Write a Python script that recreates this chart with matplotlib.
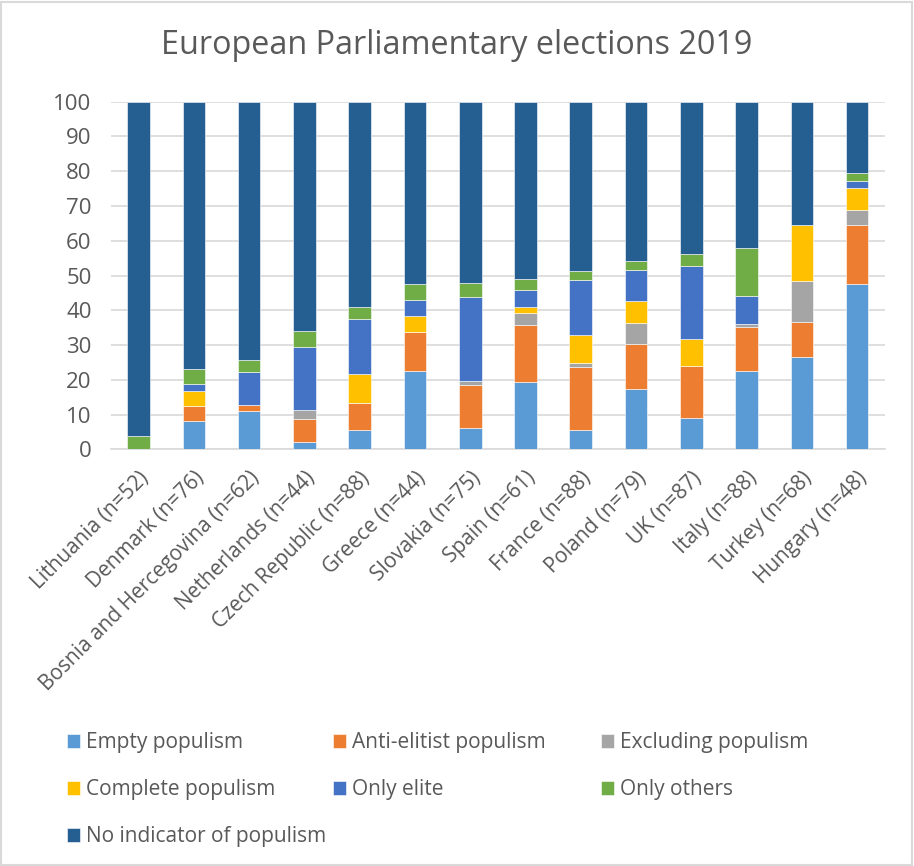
import numpy as np
import matplotlib.pyplot as plt
from matplotlib.patches import Rectangle

countries = ['Lithuania (n=52)', 'Denmark (n=76)', 'Bosnia and Hercegovina (n=62)',
             'Netherlands (n=44)', 'Czech Republic (n=88)', 'Greece (n=44)',
             'Slovakia (n=75)', 'Spain (n=61)', 'France (n=88)', 'Poland (n=79)',
             'UK (n=87)', 'Italy (n=88)', 'Turkey (n=68)', 'Hungary (n=48)']

empty      = [0.0, 8.2, 11.1, 2.1, 5.5, 22.5, 6.3, 19.5, 5.5, 17.5, 9.0, 22.5, 26.5, 47.7]
anti       = [0.0, 4.4, 1.7, 6.8, 7.9, 11.3, 12.1, 16.4, 18.2, 12.8, 14.9, 12.6, 10.2, 16.8]
excluding  = [0.0, 0.0, 0.0, 2.4, 0.0, 0.0, 1.4, 3.4, 1.1, 6.2, 0.0, 1.1, 11.8, 4.4]
complete   = [0.0, 4.3, 0.0, 0.0, 8.2, 4.6, 0.0, 1.6, 8.1, 6.3, 8.0, 0.0, 16.1, 6.3]
only_elite = [0.0, 2.0, 9.5, 18.2, 15.8, 4.6, 24.1, 5.0, 15.9, 8.8, 20.9, 8.0, 0.0, 2.1]
only_other = [3.8, 4.3, 3.4, 4.5, 3.5, 4.5, 3.9, 3.2, 2.5, 2.7, 3.4, 13.7, 0.0, 2.1]
no_ind     = [96.2, 76.8, 74.3, 66.0, 59.1, 52.5, 52.2, 50.9, 48.7, 45.7, 43.8, 42.1, 35.4, 20.6]

series = [('Empty populism', empty, '#5B9BD5'),
          ('Anti-elitist populism', anti, '#ED7D31'),
          ('Excluding populism', excluding, '#A5A5A5'),
          ('Complete populism', complete, '#FFC000'),
          ('Only elite', only_elite, '#4472C4'),
          ('Only others', only_other, '#70AD47'),
          ('No indicator of populism', no_ind, '#255E91')]

plt.rcParams['font.family'] = ['Open Sans', 'DejaVu Sans']
txt = '#595959'

fig = plt.figure(figsize=(9.14, 8.66), dpi=100)
fig.patches.append(Rectangle((0.001, 0.001), 0.997, 0.997, transform=fig.transFigure,
                             fill=False, edgecolor='#D9D9D9', linewidth=1.5))
ax = fig.add_axes([0.1214, 0.481, 0.8466, 0.4016])

x = np.arange(len(countries))
bottom = np.zeros(len(countries))
handles = []
for name, vals, col in series:
    b = ax.bar(x, vals, 0.41, bottom=bottom, color=col, label=name,
               edgecolor='white', linewidth=0.4, zorder=3)
    handles.append(b)
    bottom += np.array(vals)

ax.set_ylim(0, 100)
ax.set_xlim(-0.5, len(countries) - 0.5)
ax.set_yticks(range(0, 101, 10))
ax.yaxis.grid(True, color='#D9D9D9', linewidth=1.2, zorder=0)
for s in ['top', 'right', 'left']:
    ax.spines[s].set_visible(False)
ax.spines['bottom'].set_color('#D9D9D9')
ax.spines['bottom'].set_linewidth(1.2)
ax.tick_params(axis='y', length=0, labelsize=16, colors=txt, pad=14)
ax.tick_params(axis='x', length=0, labelsize=15, colors=txt, pad=13)
ax.set_xticks(x)
ax.set_xticklabels(countries, rotation=45, ha='right', rotation_mode='anchor')

fig.text(0.5, 0.947, 'European Parliamentary elections 2019', ha='center', va='center',
         fontsize=23.3, color=txt)

# legend: three columns placed separately, filled row by row as in the original
cols = [([0, 3, 6], 67), ([1, 4], 333), ([2, 5], 601)]
for idx, xpix in cols:
    fig.legend([handles[i] for i in idx], [series[i][0] for i in idx],
               loc='upper left', bbox_to_anchor=(xpix / 914, 0.1547), frameon=False,
               borderpad=0, borderaxespad=0, fontsize=15, labelcolor=txt,
               handlelength=0.63, handleheight=0.63, handletextpad=0.3,
               labelspacing=1.25)

fig.savefig('out.png', dpi=100)
